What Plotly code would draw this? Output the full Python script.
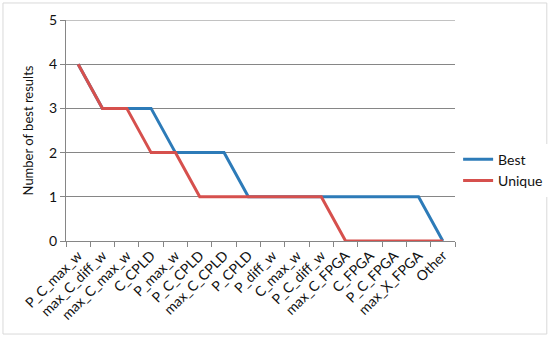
import plotly.graph_objects as go

categories = ["P_C_max_w", "max_C_diff_w", "max_C_max_w", "C_CPLD", "P_max_w",
              "P_C_CPLD", "max_C_CPLD", "P_CPLD", "P_diff_w", "C_max_w",
              "P_C_diff_w", "max_C_FPGA", "C_FPGA", "P_C_FPGA", "max_X_FPGA", "Other"]
best = [4, 3, 3, 3, 2, 2, 2, 1, 1, 1, 1, 1, 1, 1, 1, 0]
unique = [4, 3, 3, 2, 2, 1, 1, 1, 1, 1, 1, 0, 0, 0, 0, 0]

BLUE = "#2D7BB8"
RED = "#D6504D"
GRID = "#868686"
FONT = "Lato"

fig = go.Figure()
fig.add_trace(go.Scatter(x=categories, y=best, mode="lines", name="Best",
                         line=dict(color=BLUE, width=3)))
fig.add_trace(go.Scatter(x=categories, y=unique, mode="lines", name="Unique",
                         line=dict(color=RED, width=3)))

fig.update_layout(
    width=550, height=338,
    margin=dict(l=66, r=95, t=20, b=97, autoexpand=False),
    paper_bgcolor="white", plot_bgcolor="white",
    font=dict(family=FONT, size=13, color="#111"),
    legend=dict(x=1.008, y=0.44, xanchor="left", yanchor="top",
                font=dict(size=14), itemwidth=30, tracegroupgap=4),
    shapes=[
        # outer chart border
        dict(type="rect", xref="paper", yref="paper",
             x0=-0.162, x1=1.236, y0=-0.421, y1=1.077,
             line=dict(color="#d9d9d9", width=1)),
        # top gridline at 5
        dict(type="line", xref="paper", yref="y", x0=0, x1=1, y0=5, y1=5,
             line=dict(color=GRID, width=1), layer="below"),
    ],
)
fig.update_xaxes(type="category", range=[-0.5, 15.5], tickangle=-45,
                 showline=True, linecolor=GRID, linewidth=1,
                 ticks="outside", tickson="boundaries", ticklen=5,
                 tickcolor=GRID, showgrid=False, automargin=False,
                 tickfont=dict(size=14))
fig.update_yaxes(range=[0, 5], dtick=1, showgrid=True, gridcolor=GRID,
                 gridwidth=1, showline=True, linecolor=GRID, linewidth=1,
                 ticks="outside", ticklen=5, tickcolor=GRID, zeroline=False,
                 automargin=False,
                 title=dict(text="Number of best results", font=dict(size=13), standoff=12),
                 tickfont=dict(size=14))

# drop the default body margin so the chart sits at the window's corner
fig.write_html("out.html", config={"displayModeBar": False},
               post_script="document.body.style.margin='0';")
